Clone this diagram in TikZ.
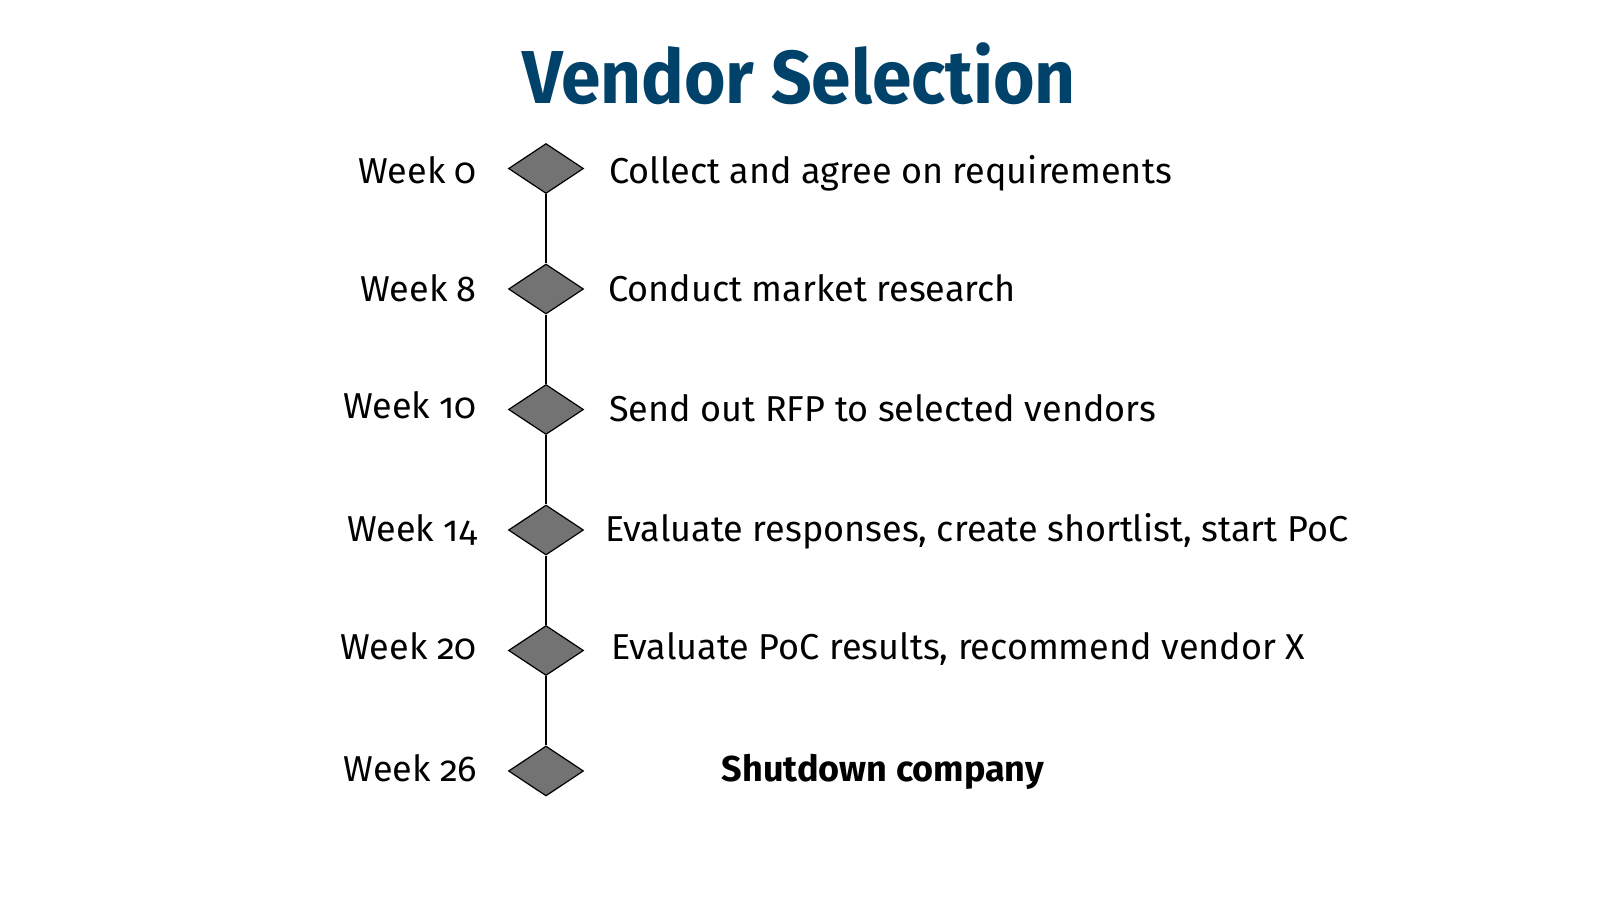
\documentclass[tikz,border=0pt]{standalone}
\usepackage{fontspec}
\setmainfont{Fira Sans}[Numbers=OldStyle]
\usetikzlibrary{shapes.geometric}
\definecolor{titleblue}{RGB}{0,66,106}
\definecolor{diagray}{RGB}{115,115,115}
\tikzset{
  ms/.style={diamond, draw=black, line width=1.2pt, fill=diagray, minimum width=75pt, minimum height=50pt, inner sep=0pt},
  wk/.style={anchor=base east, inner sep=0pt, font=\fontsize{36}{40}\selectfont},
  desc/.style={anchor=base west, inner sep=0pt, font=\fontsize{36}{40}\selectfont},
  link/.style={line width=2pt, black}
}
\begin{document}
\begin{tikzpicture}[x=1pt,y=-1pt]
\useasboundingbox (0,0) rectangle (1600,900);
\node[anchor=base, inner sep=0pt, text=titleblue, font=\fontsize{75}{80}\selectfont\bfseries] (title) at (799,103) {\scalebox{0.95}[1]{Vendor Selection}};
\node[ms] (d1) at (546,168.5) {};
\node[ms] (d2) at (546,289) {};
\node[ms] (d3) at (546,409.5) {};
\node[ms] (d4) at (546,530) {};
\node[ms] (d5) at (546,650.5) {};
\node[ms] (d6) at (546,771) {};
\draw[link] (d1.south) -- (d2.north);
\draw[link] (d2.south) -- (d3.north);
\draw[link] (d3.south) -- (d4.north);
\draw[link] (d4.south) -- (d5.north);
\draw[link] (d5.south) -- (d6.north);
\node[wk] (w1) at (477,183) {Week 0};
\node[wk] (w2) at (477,301) {Week 8};
\node[wk] (w3) at (477,418) {Week 10};
\node[wk] (w4) at (477,541) {Week 14};
\node[wk] (w5) at (477,659) {Week 20};
\node[wk] (w6) at (477,781) {Week 26};
\node[desc] (t1) at (609,183) {Collect and agree on requirements};
\node[desc] (t2) at (608,301) {Conduct market research};
\node[desc] (t3) at (609,421) {Send out RFP to selected vendors};
\node[desc] (t4) at (605,541) {Evaluate responses, create shortlist, start PoC};
\node[desc] (t5) at (611,659) {Evaluate PoC results, recommend vendor X};
\node[anchor=base, inner sep=0pt, font=\fontsize{36}{40}\selectfont\bfseries] (t6) at (883,781) {Shutdown company};
\end{tikzpicture}
\end{document}
